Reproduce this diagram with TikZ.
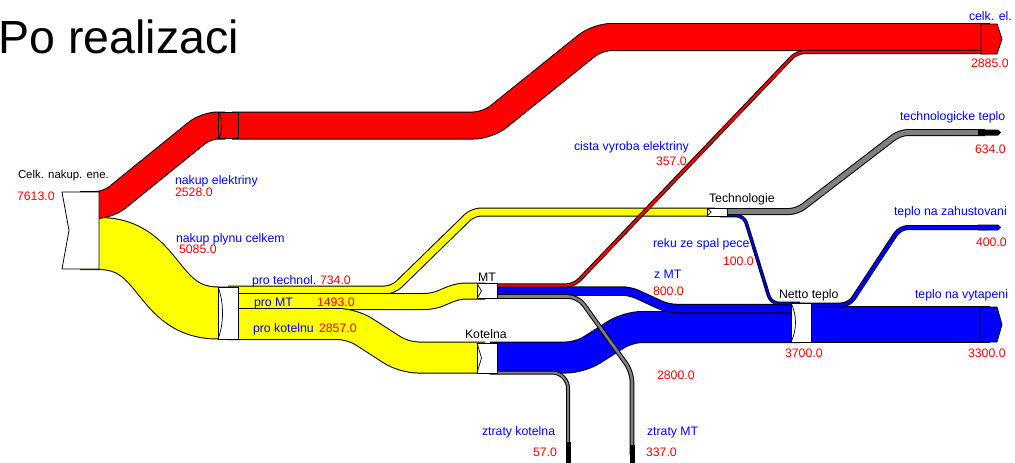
\documentclass[tikz,border=0pt]{standalone}
\usepackage{fontspec}
\setmainfont{Liberation Sans}
\newcommand\lblfont{\fontsize{12.3}{14}\selectfont}
\newcommand\flowband[4]{%
  \draw[black, line width=#2pt+2pt, #3] #4;
  \draw[#1, line width=#2pt, #3] #4;}
\definecolor{fgrey}{RGB}{128,128,128}
\definecolor{fred}{RGB}{255,0,0}
\definecolor{fyel}{RGB}{255,255,0}
\definecolor{fblue}{RGB}{0,0,255}
\tikzset{
  lbl/.style={anchor=base west, inner sep=0pt, outer sep=0pt, font=\lblfont},
  num/.style={lbl, text=fred},
  nm/.style={lbl, text=fblue},
  blk/.style={lbl, text=black},
  boxnode/.style={draw=black, line width=0.8pt, fill=white, inner sep=0pt, outer sep=0pt, minimum width=20pt},
  markline/.style={draw=black, line width=0.7pt},
  endnode/.style={draw=black, line width=0.8pt},
}
\begin{document}
\begin{tikzpicture}[x=1pt,y=-1pt]
\useasboundingbox (0,0) rectangle (1015,463);
\fill[white] (0,0) rectangle (1015,463);

% title
\node[anchor=base west, inner sep=0pt, font=\fontsize{46.5}{50}\selectfont] (title) at (-1.5,53) {Po realizaci};

% ---- band port coordinates
\coordinate (celkE) at (80,205);
\coordinate (celkG) at (80,243.5);
\coordinate (neW) at (225,125.5);
\coordinate (neE) at (232,125.5);
\coordinate (elEnd) at (990,37);
\coordinate (plT) at (228,290);
\coordinate (plM) at (228,301.5);
\coordinate (plK) at (228,324);
\coordinate (plIn) at (228,313);
\coordinate (mtIn) at (485,291);
\coordinate (mtR) at (490,285.5);
\coordinate (mtB) at (490,291);
\coordinate (mtG) at (490,296.5);
\coordinate (koIn) at (485,357.5);
\coordinate (koB) at (490,357.5);
\coordinate (koG) at (490,372.5);
\coordinate (teIn) at (715,212);
\coordinate (teG) at (720,211.5);
\coordinate (teB) at (720,215.5);
\coordinate (neR) at (800,303.5);
\coordinate (neZ) at (800,308.5);
\coordinate (neK) at (800,327);
\coordinate (neoV) at (800,324.5);
\coordinate (neoZ) at (800,305);
\coordinate (elThin) at (990,52);
\coordinate (ttEnd) at (985,132.5);
\coordinate (vyEnd) at (990,324.5);
\coordinate (zaEnd) at (990,227.5);
\coordinate (zkEnd) at (568,455);
\coordinate (zmEnd) at (632,455);

% ---- yellow flows
\flowband{fyel}{51}{}{(celkG) -- (99,243.5) .. controls (162,243.5) and (155,313) .. (218,313) -- (plIn)}
\flowband{fyel}{7}{rounded corners=8pt}{(plT) -- (393,290) -- (473,212) -- (teIn)}
\flowband{fyel}{15}{rounded corners=8pt}{(plM) -- (433,301.5) -- (458,291) -- (mtIn)}
\flowband{fyel}{30}{rounded corners=14pt}{(plK) -- (352,324) -- (404,357.5) -- (koIn)}

% ---- red main flow
\flowband{fred}{26}{rounded corners=12pt}{(celkE) -- (108,205) -- (206,125.5) -- (neW)}
\flowband{fred}{26}{rounded corners=14pt}{(neE) -- (487.5,125.5) -- (597.5,37) -- (elEnd)}

% ---- blue flows
\flowband{fblue}{30}{rounded corners=14pt}{(koB) -- (580,357.5) -- (628,327) -- (neK)}
\flowband{fblue}{7.5}{rounded corners=8pt}{(mtB) -- (630,291) -- (668,308.5) -- (neZ)}
\flowband{fblue}{1.6}{rounded corners=8pt}{(teB) -- (744,215.5) -- (771,303.5) -- (neR)}
\flowband{fblue}{35}{}{(neoV) -- (vyEnd)}
\flowband{fblue}{3}{rounded corners=8pt}{(neoZ) -- (849,305) -- (900,227.5) -- (zaEnd)}

% ---- grey flows
\flowband{fgrey}{5}{rounded corners=8pt}{(teG) -- (797,211.5) -- (900,132.5) -- (ttEnd)}
\flowband{fgrey}{2.6}{rounded corners=10pt}{(mtG) -- (578,296.5) -- (632,372) -- (zmEnd)}
\flowband{fgrey}{2}{rounded corners=16pt}{(koG) -- (568,372.5) -- (zkEnd)}

% ---- thin red
\flowband{fred}{2.2}{rounded corners=8pt}{(mtR) -- (574,285.5) -- (797,52) -- (elThin)}

% ---- nodes
\node[boxnode, minimum width=37pt, minimum height=77pt, draw=none, fill=none] (celk) at (80.5,230.5) {};
\draw[endnode, fill=white] (celk.north west) -- (celk.north east) -- (celk.south east) -- (celk.south west) -- ([xshift=7pt]celk.west) -- cycle;

\node[boxnode, fill=fred, minimum height=26pt] (ne) at (228,125.5) {};
\draw[markline] (ne.north west) .. controls +(5,4) and +(5,-4) .. (ne.south west);

\node[boxnode, minimum height=52pt] (plyn) at (228,313) {};
\draw[markline] (plyn.north west) .. controls +(6,15) and +(6,-15) .. (plyn.south west);

\node[boxnode, minimum height=15pt] (mt) at (487,291) {};
\draw[markline] (mt.north west) -- ([xshift=4.5pt]mt.west) -- (mt.south west);

\node[boxnode, minimum height=30pt] (kot) at (487,358) {};
\draw[markline] (kot.north west) -- ([xshift=4.5pt]kot.west) -- (kot.south west);

\node[boxnode, minimum height=8pt] (tech) at (717,212) {};
\draw[markline] (tech.north west) -- ([xshift=4pt]tech.west) -- (tech.south west);

\node[boxnode, minimum height=39pt] (netto) at (801,322.5) {};
\draw[markline] (netto.north west) .. controls +(6,12) and +(6,-12) .. (netto.south west);

% end nodes
\draw[endnode, fill=fred] (981,24) -- (997,24) -- (1002,39) -- (997,54) -- (981,54) -- cycle;
\node[inner sep=0pt, minimum size=0pt] (elnode) at (991,39) {};
\draw[endnode, fill=fblue] (980,307) -- (997,307) -- (1002,324.5) -- (997,342) -- (980,342) -- cycle;
\node[inner sep=0pt, minimum size=0pt] (vynode) at (990,324.5) {};
\draw[endnode, fill=fblue] (978,225) -- (998,225) -- (1000.5,227.5) -- (998,230) -- (978,230) -- cycle;
\node[inner sep=0pt, minimum size=0pt] (zanode) at (989,227.5) {};
\fill[black] (978,129.5) -- (998,129.5) -- (1001,132.5) -- (998,135.5) -- (978,135.5) -- cycle;
\node[inner sep=0pt, minimum size=0pt] (ttnode) at (989,132.5) {};
\fill[black] (565.5,442) rectangle (570.5,463);
\node[inner sep=0pt, minimum size=0pt] (zknode) at (568,452) {};
\fill[black] (629.5,445) rectangle (634.5,463);
\node[inner sep=0pt, minimum size=0pt] (zmnode) at (632,454) {};

% ---- labels
\node[blk, font=\fontsize{11.4}{14}\selectfont] (l1) at (18,178) {Celk. nakup. ene.};
\node[num] (l2) at (17,200) {7613.0};
\node[nm] (l3) at (175,184) {nakup elektriny};
\node[num] (l4) at (175,196) {2528.0};
\node[nm] (l5) at (176,242) {nakup plynu celkem};
\node[num] (l6) at (179,253) {5085.0};
\node[nm] (l7) at (252,284) {pro technol.};
\node[num] (l8) at (320,284) {734.0};
\node[nm] (l9) at (254,306) {pro MT};
\node[num] (l10) at (317,306) {1493.0};
\node[nm] (l11) at (253,332) {pro kotelnu};
\node[num] (l12) at (319,332) {2857.0};
\node[blk] (l13) at (478,281) {MT};
\node[blk] (l14) at (465,338) {Kotelna};
\node[nm] (l15) at (654,278) {z MT};
\node[num] (l16) at (653,295) {800.0};
\node[num] (l17) at (657,379) {2800.0};
\node[nm] (l18) at (482,435) {ztraty kotelna};
\node[num] (l19) at (533,456) {57.0};
\node[nm] (l20) at (647,435) {ztraty MT};
\node[num] (l21) at (646,456) {337.0};
\node[nm] (l22) at (574,150) {cista vyroba elektriny};
\node[num] (l23) at (656,165) {357.0};
\node[blk] (l24) at (709,202) {Technologie};
\node[nm] (l25) at (653,247) {reku ze spal pece};
\node[num] (l26) at (723,265) {100.0};
\node[blk] (l27) at (779,298) {Netto teplo};
\node[num] (l28) at (785,357) {3700.0};
\node[nm] (l29) at (915,298) {teplo na vytapeni};
\node[num] (l30) at (968,357) {3300.0};
\node[nm] (l31) at (894,215) {teplo na zahustovani};
\node[num] (l32) at (976,246) {400.0};
\node[nm] (l33) at (969,20) {celk. el.};
\node[num] (l34) at (971,67) {2885.0};
\node[nm] (l35) at (900,120) {technologicke teplo};
\node[num] (l36) at (975,153) {634.0};
\end{tikzpicture}
\end{document}
